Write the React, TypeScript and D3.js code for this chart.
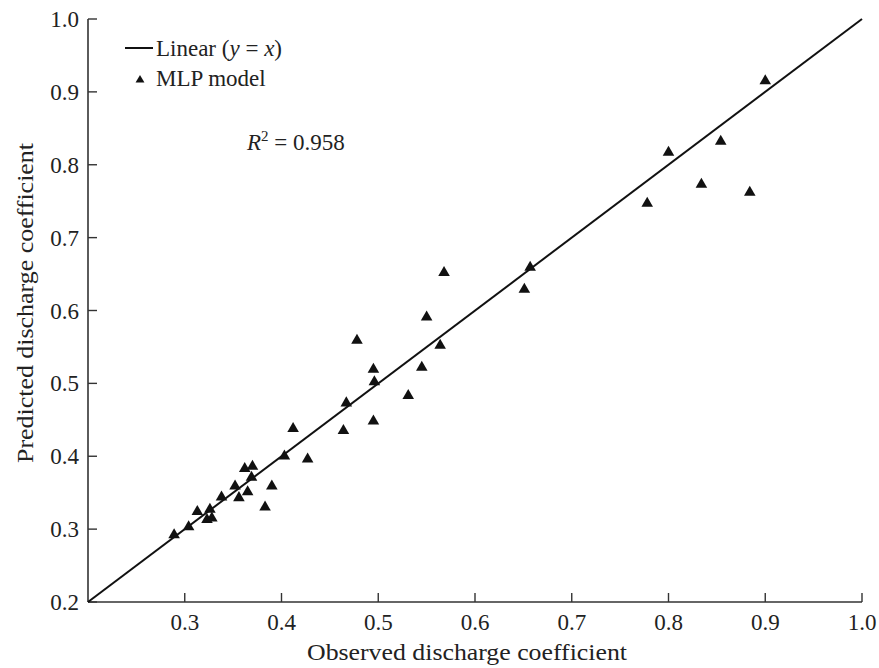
import React from "react";
import * as d3 from "d3";

const observed = [
  0.289, 0.304, 0.313, 0.326, 0.323, 0.328, 0.338, 0.352, 0.356, 0.362,
  0.370, 0.369, 0.365, 0.390, 0.383, 0.403, 0.412, 0.427, 0.467, 0.464,
  0.495, 0.496, 0.495, 0.478, 0.531, 0.545, 0.550, 0.564, 0.568, 0.657,
  0.651, 0.778, 0.800, 0.834, 0.854, 0.884, 0.900,
];
const predicted = [
  0.292, 0.303, 0.324, 0.327, 0.313, 0.315, 0.344, 0.359, 0.343, 0.383,
  0.386, 0.371, 0.351, 0.359, 0.330, 0.400, 0.438, 0.396, 0.473, 0.435,
  0.448, 0.502, 0.519, 0.559, 0.483, 0.522, 0.591, 0.552, 0.652, 0.659,
  0.629, 0.747, 0.817, 0.773, 0.832, 0.762, 0.915,
];
const xTicks = [0.3, 0.4, 0.5, 0.6, 0.7, 0.8, 0.9, 1.0];
const yTicks = [0.2, 0.3, 0.4, 0.5, 0.6, 0.7, 0.8, 0.9, 1.0];
const lineDomain = [0.2, 1.0];

const W = 879;
const H = 668;
const FONT = "Liberation Serif, Times New Roman, serif";
const txt: React.CSSProperties = { fontFamily: FONT };

export default function App() {
  const x = d3.scaleLinear().domain([0.2, 1.0]).range([88, 862]);
  const y = d3.scaleLinear().domain([0.2, 1.0]).range([602, 19]);
  const tri = d3.symbol(d3.symbolTriangle, 58)() as string;
  const triLegend = d3.symbol(d3.symbolTriangle, 34)() as string;
  const line = d3
    .line<number>()
    .x((d) => x(d))
    .y((d) => y(d));
  const axisColor = "#333";
  return (
    <svg
      width={W}
      height={H}
      style={{ position: "absolute", left: 0, top: 0, background: "#fff", fontFamily: FONT }}
    >
      <rect x={0} y={0} width={W} height={H} fill="#fff" />
      {/* axes */}
      <line x1={x(0.2)} x2={x(0.2)} y1={y(1.0)} y2={y(0.2)} stroke={axisColor} strokeWidth={1.6} />
      <line x1={x(0.2)} x2={x(1.0)} y1={y(0.2)} y2={y(0.2)} stroke={axisColor} strokeWidth={1.6} />
      {xTicks.map((t) => (
        <g key={"xt" + t}>
          <line x1={x(t)} x2={x(t)} y1={y(0.2)} y2={y(0.2) - 9} stroke={axisColor} strokeWidth={1.4} />
          <text x={x(t)} y={630} textAnchor="middle" fontSize={23} fill="#222" style={txt}>
            {t.toFixed(1)}
          </text>
        </g>
      ))}
      {yTicks.map((t) => (
        <g key={"yt" + t}>
          <line x1={x(0.2)} x2={x(0.2) + 9} y1={y(t)} y2={y(t)} stroke={axisColor} strokeWidth={1.4} />
          <text x={79} y={y(t) + 8} textAnchor="end" fontSize={23} fill="#222" style={txt}>
            {t.toFixed(1)}
          </text>
        </g>
      ))}
      {/* axis titles */}
      <text
        x={467}
        y={660}
        textAnchor="middle"
        fontSize={23}
        fill="#222"
        textLength={320}
        lengthAdjust="spacingAndGlyphs"
        style={txt}
      >
        Observed discharge coefficient
      </text>
      <text
        transform={`translate(33,303) rotate(-90)`}
        textAnchor="middle"
        fontSize={23}
        fill="#222"
        textLength={320}
        lengthAdjust="spacingAndGlyphs"
        style={txt}
      >
        Predicted discharge coefficient
      </text>
      {/* y = x line */}
      <path d={line(lineDomain) || ""} fill="none" stroke="#111" strokeWidth={2} />
      {/* points */}
      {observed.map((o, i) => (
        <path key={"p" + i} d={tri} transform={`translate(${x(o)},${y(predicted[i])})`} fill="#111" />
      ))}
      {/* legend */}
      <line x1={125} x2={153} y1={48} y2={48} stroke="#111" strokeWidth={2} />
      <text x={156} y={56} fontSize={23} fill="#222" style={txt}>
        Linear (<tspan fontStyle="italic">y</tspan> = <tspan fontStyle="italic">x</tspan>)
      </text>
      <path d={triLegend} transform="translate(140,80)" fill="#111" />
      <text x={156} y={86} fontSize={23} fill="#222" style={txt}>
        MLP model
      </text>
      <text x={247} y={150} fontSize={23} fill="#222" style={txt}>
        <tspan fontStyle="italic">R</tspan>
        <tspan fontSize={15} dy={-9}>2</tspan>
        <tspan dy={9}> = 0.958</tspan>
      </text>
    </svg>
  );
}
